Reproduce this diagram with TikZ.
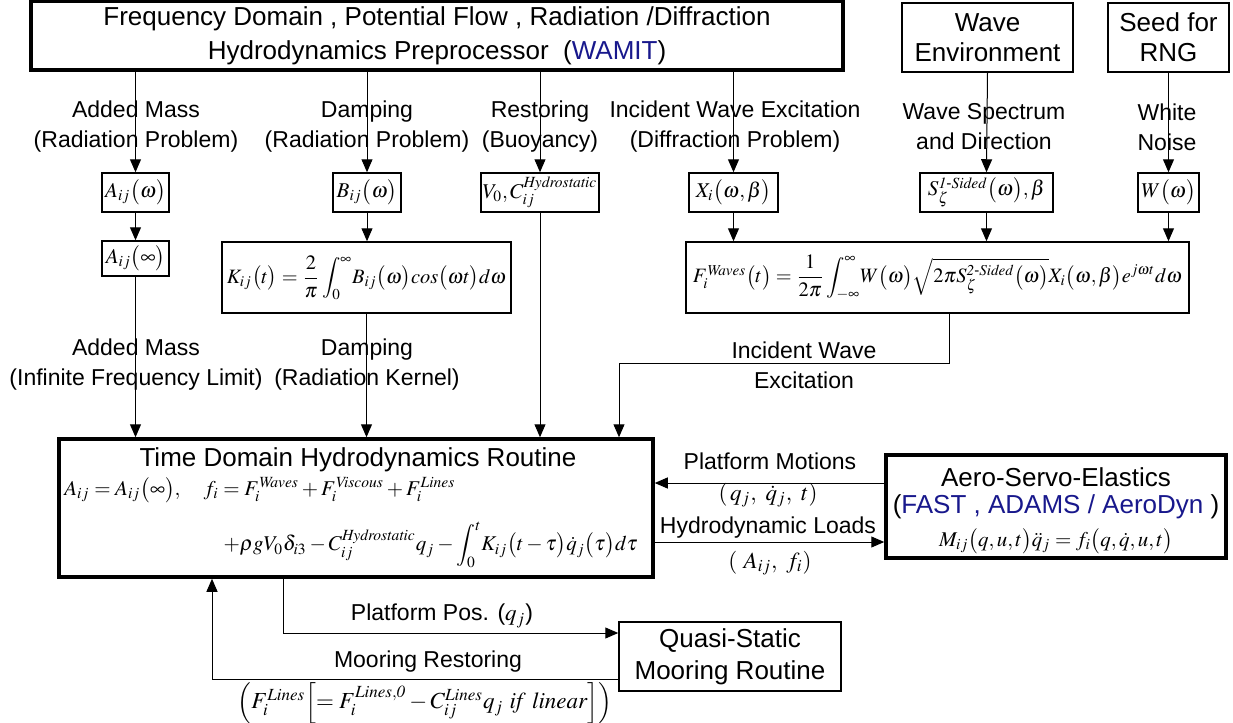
\documentclass[tikz,border=0pt]{standalone}
\usepackage{amsmath}
\usepackage{mathptmx}
\usepackage[no-math]{fontspec}
\setmainfont{Liberation Sans}
\usetikzlibrary{arrows.meta}

\definecolor{wamitblue}{RGB}{24,24,140}
\newcommand{\ttlfont}{\fontsize{13}{16}\selectfont}
\newcommand{\lblfont}{\fontsize{11.5}{15}\selectfont}
\newcommand{\eqfont}{\fontsize{10.5}{13}\selectfont}
\newcommand{\bigeqfont}{\fontsize{10.2}{13}\selectfont}

\begin{document}
\begin{tikzpicture}[x=0.5pt, y=-0.5pt,
    box/.style={draw, line width=0.75pt, inner sep=0pt, align=center},
    mainbox/.style={draw, line width=1.75pt, inner sep=0pt, align=center},
    ttl/.style={font=\ttlfont, align=center, inner sep=0pt},
    lbl/.style={font=\lblfont, align=center, inner sep=1pt},
    arr/.style={-{Triangle[length=6.5pt, width=5.5pt]}, line width=0.5pt}
]

\useasboundingbox (0,0) rectangle (1233,723);

% Source boxes
\node[mainbox, minimum width=406pt, minimum height=34.5pt, font=\fontsize{13}{17}\selectfont] (wamit) at (437,35.5)
    {Frequency Domain , Potential Flow , Radiation /Diffraction\\Hydrodynamics Preprocessor\ \ (\textcolor{wamitblue}{WAMIT})};
\node[box, minimum width=85.5pt, minimum height=34.5pt, font=\fontsize{13}{15}\selectfont] (wave) at (987.5,37.5) {Wave\\Environment};
\node[box, minimum width=60.5pt, minimum height=34.5pt, font=\fontsize{13}{15}\selectfont] (seed) at (1168.5,37.5) {Seed for\\RNG};

% Frequency domain quantities
\node[box, minimum width=33.5pt, minimum height=19.5pt, font=\eqfont] (Aw) at (135.5,192.5) {$A_{ij}\bigl(\omega\bigr)$};
\node[box, minimum width=34pt, minimum height=19.5pt, font=\eqfont] (Bw) at (367,192.5) {$B_{ij}\bigl(\omega\bigr)$};
\node[box, minimum width=59pt, minimum height=19.5pt, font=\eqfont] (VC) at (540,192.5) {$V_0,C_{ij}^{\mathit{Hydrostatic}}$};
\node[box, minimum width=44.5pt, minimum height=19.5pt, font=\eqfont] (Xw) at (733.5,192.5) {$X_i\bigl(\omega,\beta\bigr)$};
\node[box, minimum width=66.5pt, minimum height=19.5pt, font=\eqfont] (Sw) at (986.5,192.5) {$S_\zeta^{\mathit{1\text{-}Sided}}\bigl(\omega\bigr),\beta$};
\node[box, minimum width=30.5pt, minimum height=19.5pt, font=\eqfont] (Ww) at (1168.5,192.5) {$W\bigl(\omega\bigr)$};

\node[box, minimum width=33.5pt, minimum height=17.5pt, font=\eqfont] (Ainf) at (135.5,258.5) {$A_{ij}\bigl(\infty\bigr)$};
\node[box, minimum width=144.5pt, minimum height=35.5pt, font=\bigeqfont] (Kbox) at (366.5,277.5)
    {$K_{ij}\bigl(t\bigr)=\dfrac{2}{\pi}\displaystyle\int_0^\infty\! B_{ij}\bigl(\omega\bigr)\mathit{cos}\bigl(\omega t\bigr)d\omega$};
\node[box, minimum width=251.5pt, minimum height=35.5pt, font=\bigeqfont] (Fbox) at (937.5,277.5)
    {$F_i^{\mathit{Waves}}\bigl(t\bigr)=\dfrac{1}{2\pi}\displaystyle\int_{-\infty}^{\infty}\! W\bigl(\omega\bigr)\sqrt{2\pi S_\zeta^{\mathit{2\text{-}Sided}}\bigl(\omega\bigr)}X_i\bigl(\omega,\beta\bigr)e^{j\omega t}d\omega$};

% Time domain routines
\node[mainbox, minimum width=297pt, minimum height=69pt] (tdh) at (356,508) {};
\node[ttl] (tdhT) at (358,460) {Time Domain Hydrodynamics Routine};
\node[font=\eqfont, anchor=west, inner sep=0pt] (tdhA) at (64,490)
    {$A_{ij}=A_{ij}\bigl(\infty\bigr),\quad f_i=F_i^{\mathit{Waves}}+F_i^{\mathit{Viscous}}+F_i^{\mathit{Lines}}$};
\node[font=\eqfont, anchor=east, inner sep=0pt] (tdhB) at (638,545)
    {$+\rho g V_0\delta_{i3}-C_{ij}^{\mathit{Hydrostatic}}q_j-\displaystyle\int_0^t\! K_{ij}\bigl(t-\tau\bigr)\dot q_j\bigl(\tau\bigr)d\tau$};

\node[mainbox, minimum width=170pt, minimum height=51.5pt] (ase) at (1056,506.5) {};
\node[ttl] (aseT) at (1056,477) {Aero-Servo-Elastics};
\node[ttl] (aseP) at (1056,507) {(\textcolor{wamitblue}{FAST , ADAMS / AeroDyn} )};
\node[font=\eqfont, inner sep=0pt] (aseM) at (1056,541) {$M_{ij}\bigl(q,u,t\bigr)\ddot q_j=f_i\bigl(q,\dot q,u,t\bigr)$};

\node[box, minimum width=111pt, minimum height=34.5pt, font=\ttlfont] (qsm) at (730,656.5) {Quasi-Static\\Mooring Routine};

% Bend points
\coordinate (fk) at (949,363);
\coordinate (incbend) at (619,363);
\coordinate (pm) at (0,483);
\coordinate (hl) at (0,542);
\coordinate (pp) at (283,633);
\coordinate (mr) at (212,679);

% Connectors
\draw[arr] (Aw.north |- wamit.south) -- (Aw.north);
\draw[arr] (Bw.north |- wamit.south) -- (Bw.north);
\draw[arr] (VC.north |- wamit.south) -- (VC.north);
\draw[arr] (Xw.north |- wamit.south) -- (Xw.north);
\draw[arr] (wave.south) -- (Sw.north);
\draw[arr] (seed.south) -- (Ww.north);

\draw[arr] (Aw.south) -- (Ainf.north);
\draw[arr] (Bw.south) -- (Bw.south |- Kbox.north);
\draw[arr] (Xw.south) -- (Xw.south |- Fbox.north);
\draw[arr] (Sw.south) -- (Sw.south |- Fbox.north);
\draw[arr] (Ww.south) -- (Ww.south |- Fbox.north);

\draw[arr] (Ainf.south) -- (Ainf.south |- tdh.north);
\draw[arr] (Kbox.south) -- (Kbox.south |- tdh.north);
\draw[arr] (VC.south) -- (VC.south |- tdh.north);
\draw[arr] (fk |- Fbox.south) -- (fk) -- (incbend) -- (incbend |- tdh.north);

\draw[arr] (ase.west |- pm) -- (tdh.east |- pm);
\draw[arr] (tdh.east |- hl) -- (ase.west |- hl);
\draw[arr] (pp |- tdh.south) -- (pp) -- (qsm.west |- pp);
\draw[arr] (qsm.west |- mr) -- (mr) -- (mr |- tdh.south);

% Labels
\node[lbl] (lAM) at (136,127) {Added Mass\\(Radiation Problem)};
\node[lbl] (lDR) at (367,127) {Damping\\(Radiation Problem)};
\node[lbl] (lRB) at (540,127) {Restoring\\(Buoyancy)};
\node[lbl] (lIW) at (735,127) {Incident Wave Excitation\\(Diffraction Problem)};
\node[lbl] (lWS) at (984,127) {Wave Spectrum\\and Direction};
\node[lbl] (lWN) at (1167,127) {White\\Noise};
\node[lbl] (lAI) at (136,365) {Added Mass\\(Infinite Frequency Limit)};
\node[lbl] (lRK) at (367,365) {Damping\\(Radiation Kernel)};
\node[lbl] (lIE) at (804,365) {Incident Wave\\Excitation};
\node[lbl] (lPM) at (770,461) {Platform Motions};
\node[lbl] (lPMq) at (768,495) {$(\,q_j,\ \dot q_j,\ t)$};
\node[lbl] (lHL) at (768,528) {Hydrodynamic Loads};
\node[lbl] (lHLq) at (770,563) {$(\ A_{ij},\ f_i)$};
\node[lbl] (lPP) at (442,616) {Platform Pos. ($q_j$)};
\node[lbl] (lMR) at (428,662) {Mooring Restoring};
\node[lbl] (lMRf) at (425,703)
    {$\Bigl(F_i^{\mathit{Lines}}\Bigl[=F_i^{\mathit{Lines,0}}-C_{ij}^{\mathit{Lines}}q_j\ \mathit{if\ linear}\Bigr]\Bigr)$};

\end{tikzpicture}
\end{document}
